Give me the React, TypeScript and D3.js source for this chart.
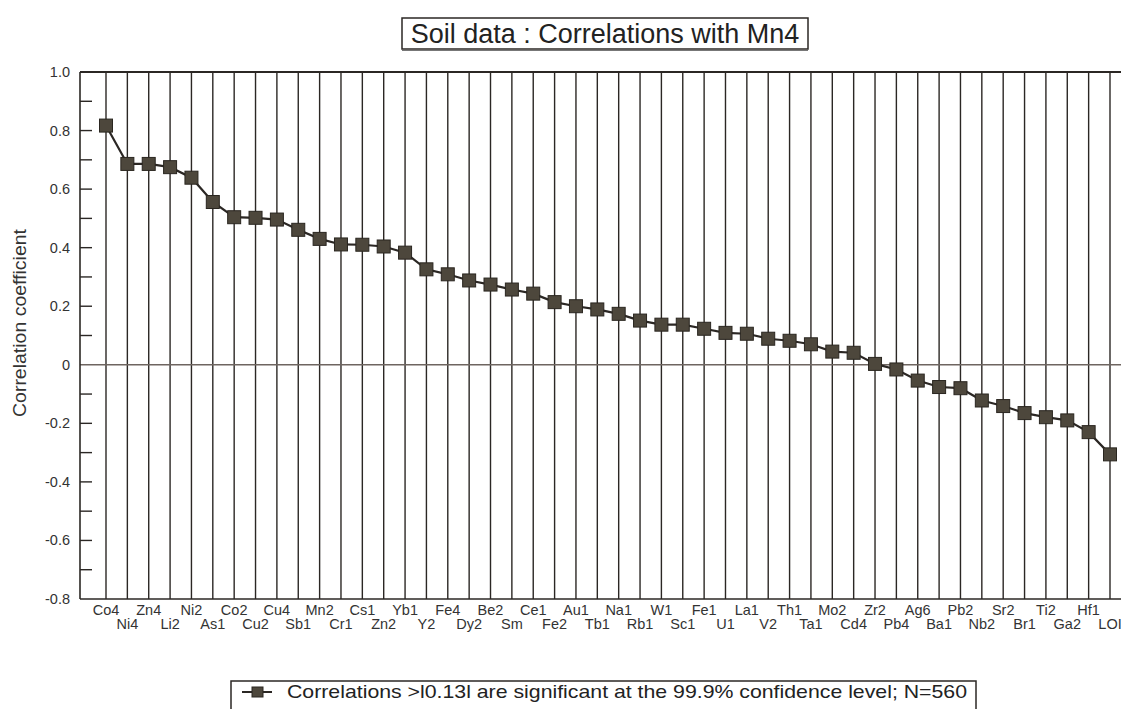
import React from "react";
import * as d3 from "d3";

const categories = ["Co4","Ni4","Zn4","Li2","Ni2","As1","Co2","Cu2","Cu4","Sb1","Mn2","Cr1","Cs1","Zn2","Yb1","Y2","Fe4","Dy2","Be2","Sm","Ce1","Fe2","Au1","Tb1","Na1","Rb1","W1","Sc1","Fe1","U1","La1","V2","Th1","Ta1","Mo2","Cd4","Zr2","Pb4","Ag6","Ba1","Pb2","Nb2","Sr2","Br1","Ti2","Ga2","Hf1","LOI"];
const correlations = [0.817,0.686,0.686,0.675,0.639,0.556,0.504,0.502,0.496,0.461,0.430,0.411,0.410,0.404,0.383,0.326,0.309,0.288,0.274,0.257,0.243,0.214,0.200,0.189,0.174,0.151,0.137,0.137,0.123,0.109,0.106,0.089,0.082,0.070,0.045,0.041,0.003,-0.016,-0.054,-0.076,-0.080,-0.122,-0.141,-0.165,-0.179,-0.190,-0.230,-0.306];
const yTickLabels = [1.0,0.8,0.6,0.4,0.2,0,-0.2,-0.4,-0.6,-0.8];
const yMinorTicks = [0.9,0.8,0.7,0.6,0.5,0.4,0.3,0.2,0.1,-0.1,-0.2,-0.3,-0.4,-0.5,-0.6,-0.7];

const W = 1121, H = 709;
const left = 80, top = 72, bottom = 599, right = 1124;

const fmt = (t: number) => (t === 0 ? "0" : (t < 0 ? "-" : "") + Math.abs(t).toFixed(1));

export default function App() {
  const x = d3.scalePoint<string>().domain(categories).range([106, 1110]);
  const y = d3.scaleLinear().domain([-0.8, 1.0]).range([bottom, top]);
  const line = d3.line<number>().x((_, i) => x(categories[i])!).y(d => y(d));
  const font = "'Liberation Sans', Arial, Helvetica, sans-serif";
  const ink = "#2b2724";
  const marker = 13;
  return (
    <svg width={W} height={H} style={{ position: "absolute", left: 0, top: 0, background: "#fff" }} fontFamily={font}>
      <rect x={0} y={0} width={W} height={H} fill="#fff" />
      {/* title */}
      <rect x={402} y={18} width={406} height={31} fill="#fff" stroke={ink} strokeWidth={1.5} />
      <line x1={402} x2={808} y1={50.5} y2={50.5} stroke="#777" strokeWidth={1.2} />
      <text x={605} y={43} textAnchor="middle" fontSize={27} fill="#222">Soil data : Correlations with Mn4</text>
      {/* vertical grid lines */}
      {categories.map(c => (
        <line key={c} x1={x(c)} x2={x(c)} y1={top} y2={bottom} stroke={ink} strokeWidth={1.4} />
      ))}
      {/* zero line */}
      <line x1={left} x2={right} y1={y(0)} y2={y(0)} stroke="#6e6560" strokeWidth={1.6} />
      {/* frame */}
      <line x1={left} x2={right} y1={top} y2={top} stroke={ink} strokeWidth={1.8} />
      <line x1={left} x2={right} y1={bottom} y2={bottom} stroke={ink} strokeWidth={1.6} />
      <line x1={left} x2={left} y1={top} y2={bottom} stroke={ink} strokeWidth={1.6} />
      {/* y ticks */}
      {yMinorTicks.map(t => (
        <line key={t} x1={left} x2={left + 12} y1={y(t)} y2={y(t)} stroke={ink} strokeWidth={1.4} />
      ))}
      {yTickLabels.map(t => (
        <text key={t} x={70} y={y(t) + 5} textAnchor="end" fontSize={14.5} fill="#333">
          {fmt(t)}
        </text>
      ))}
      <text transform={`translate(26,323) rotate(-90)`} textAnchor="middle" fontSize={18.5} fill="#333" textLength={188} lengthAdjust="spacingAndGlyphs">Correlation coefficient</text>
      {/* x labels */}
      {categories.map((c, i) => (
        <text key={c} x={x(c)} y={i % 2 === 0 ? 615 : 629} textAnchor="middle" fontSize={14.5} fill="#333">{c}</text>
      ))}
      {/* series */}
      <path d={line(correlations) || ""} fill="none" stroke={ink} strokeWidth={2.2} />
      {correlations.map((v, i) => (
        <rect key={i} x={x(categories[i])! - marker / 2} y={y(v) - marker / 2} width={marker} height={marker}
          fill="#4d473c" stroke="#2a2620" strokeWidth={1} />
      ))}
      {/* legend */}
      <rect x={231} y={681} width={745} height={36} fill="#fff" stroke={ink} strokeWidth={1.5} />
      <line x1={242} x2={272} y1={692} y2={692} stroke={ink} strokeWidth={2} />
      <rect x={252} y={687} width={11} height={10} fill="#4d473c" stroke="#2a2620" strokeWidth={1} />
      <text x={287} y={698} fontSize={19} fill="#222" textLength={680} lengthAdjust="spacingAndGlyphs">Correlations &gt;l0.13l are significant at the 99.9% confidence level; N=560</text>
    </svg>
  );
}
